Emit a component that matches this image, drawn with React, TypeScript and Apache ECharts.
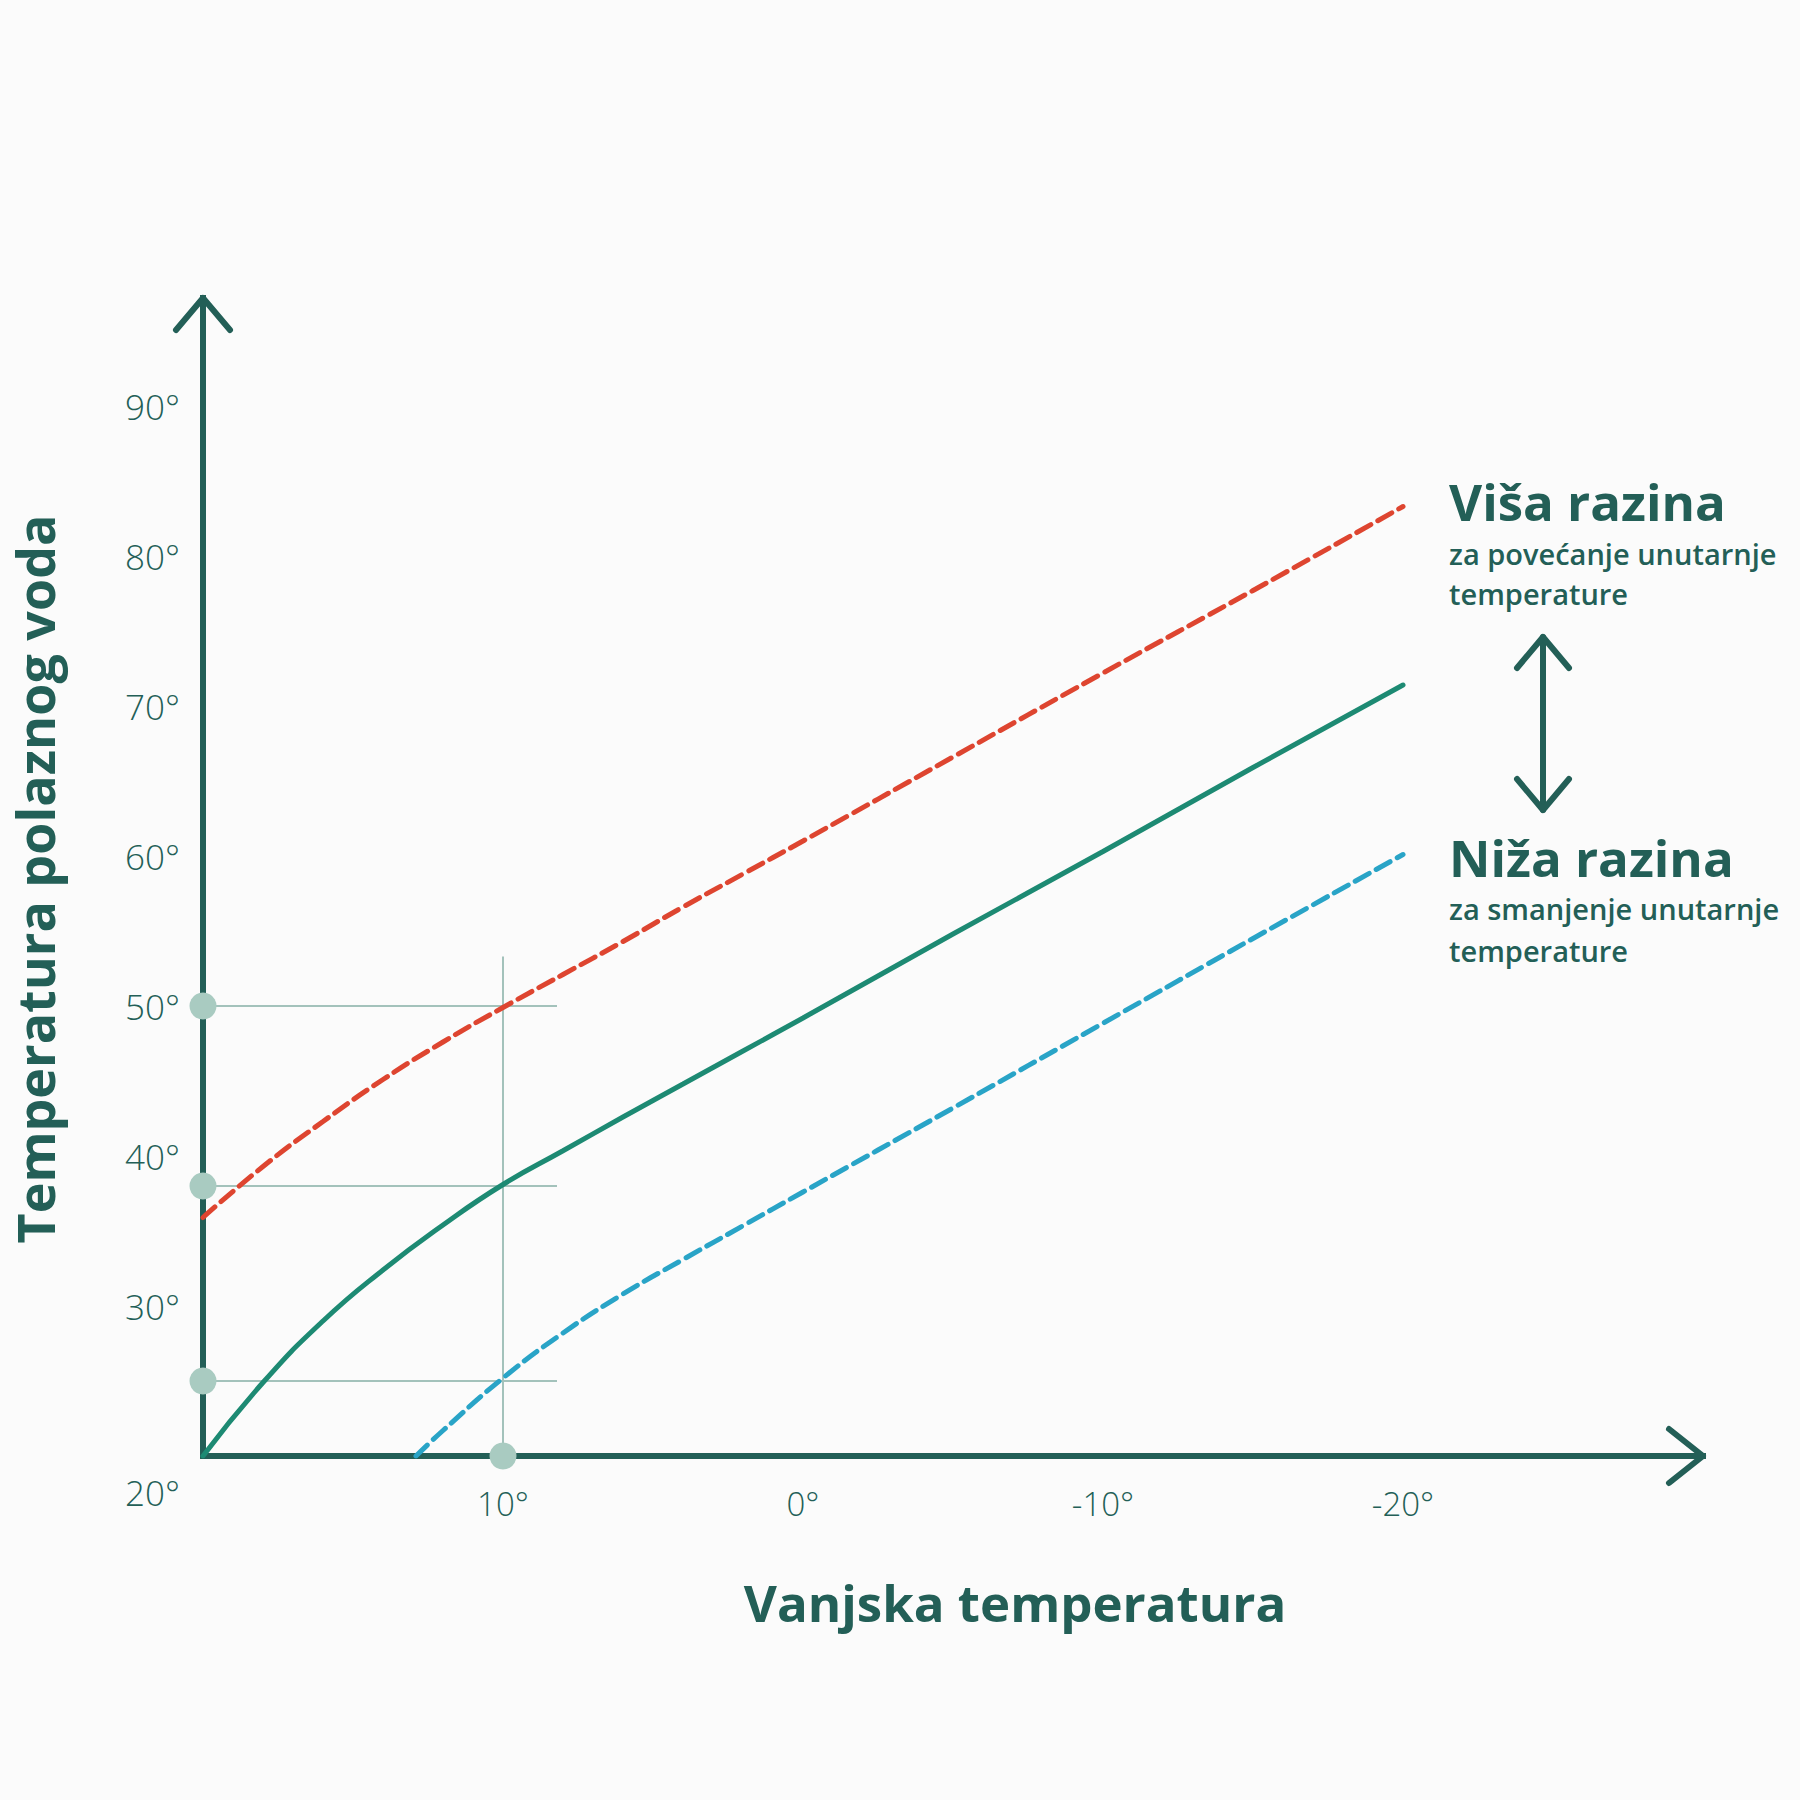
import React, { useEffect, useRef } from "react";
import * as echarts from "echarts";

// ---- Data ----
const outdoorTicks = [10, 0, -10, -20];
const flowTicks = [30, 40, 50, 60, 70, 80, 90];
const originLabel = "20°";

// Normal heating curve (solid)
const normalX = [20, 18, 16, 14, 12, 10, 8, 6, 4, 2, 0, -5, -10, -15, -20];
const normalY = [20, 24.9, 29.0, 32.4, 35.4, 38.1, 40.35, 42.6, 44.8, 47.0, 49.2, 54.8, 60.3, 65.9, 71.4];

// Higher level (red dashed)
const higherX = [20, 18, 16, 14, 12, 10, 8, 6, 4, 2, 0, -5, -10, -15, -20];
const higherY = [35.9, 39.3, 42.3, 45.1, 47.6, 49.9, 52.1, 54.3, 56.6, 58.8, 61.0, 66.6, 72.2, 77.7, 83.3];

// Lower level (blue dashed)
const lowerX = [12.9, 12, 10, 8, 6, 4, 2, 0, -5, -10, -15, -20];
const lowerY = [20, 21.7, 25.2, 28.2, 30.8, 33.1, 35.35, 37.6, 43.2, 48.85, 54.5, 60.1];

// Reading guides at outdoor 10°
const guideFlowValues = [50, 38, 25];
const guideOutdoor = 10;
const guideEndX = 8.2;
const guideTopY = 53.3;

const xMin = -30;
const xMax = 20;
const yMin = 20;
const yMax = 97.2;

const higherTitle = "Viša razina";
const higherSub = ["za povećanje unutarnje", "temperature"];
const lowerTitle = "Niža razina";
const lowerSub = ["za smanjenje unutarnje", "temperature"];
const xTitle = "Vanjska temperatura";
const yTitle = "Temperatura polaznog voda";

// ---- Styling ----
const DARK = "#235f57";
const TEAL = "#1d8a73";
const RED = "#de4530";
const BLUE = "#29a4c7";
const GUIDE = "#a3c2bb";
const DOT = "#a9cbc1";
const FONT = "'Open Sans', sans-serif";

const G = { left: 203, top: 298, width: 1500, height: 1158 };

const zip = (xs: number[], ys: number[]) => xs.map((x, i) => [x, ys[i]]);

export default function App() {
  const ref = useRef<HTMLDivElement>(null);
  useEffect(() => {
    if (!ref.current) return;
    const chart = echarts.init(ref.current, undefined, { renderer: "svg" });
    const right = G.left + G.width;
    const bottom = G.top + G.height;
    const arrowStyle = { stroke: DARK, lineWidth: 6, fill: null, lineCap: "round", lineJoin: "round" };

    const guideSeries: any[] = guideFlowValues.map((v) => ({
      type: "line",
      data: [[xMax, v], [guideEndX, v]],
      symbol: "none",
      lineStyle: { color: GUIDE, width: 2 },
      z: 1,
      silent: true,
    }));
    guideSeries.push({
      type: "line",
      data: [[guideOutdoor, yMin], [guideOutdoor, guideTopY]],
      symbol: "none",
      lineStyle: { color: GUIDE, width: 2 },
      z: 1,
      silent: true,
    });

    const dotData = [
      ...guideFlowValues.map((v) => [xMax, v]),
      [guideOutdoor, yMin],
    ];

    const tx = (t: string, x: number, y: number, font: string, extra: any = {}) => ({
      type: "text",
      x,
      y,
      ...extra,
      style: { text: t, fill: DARK, font, textVerticalAlign: "middle", ...(extra.style || {}) },
    });

    const curve = (data: number[][], color: string, dashed: boolean) => ({
      type: "line",
      data,
      symbol: "none",
      smooth: 0.5,
      lineStyle: dashed
        ? { color, width: 5, type: [16, 8], cap: "round" }
        : { color, width: 5, cap: "round" },
      z: 3,
    });

    chart.setOption({
      animation: false,
      backgroundColor: "#fbfbfb",
      grid: { left: G.left, top: G.top, width: G.width, height: G.height, containLabel: false },
      xAxis: {
        type: "value",
        inverse: true,
        min: xMin,
        max: xMax,
        interval: 10,
        axisLine: { show: true, onZero: false, lineStyle: { color: DARK, width: 6, cap: "square" } },
        axisTick: { show: false },
        splitLine: { show: false },
        axisLabel: {
          margin: 31,
          color: DARK,
          fontSize: 33,
          fontFamily: FONT,
          fontWeight: 300,
          formatter: (v: number) => (outdoorTicks.includes(v) ? `${v}°` : ""),
        },
      },
      yAxis: {
        type: "value",
        min: yMin,
        max: yMax,
        interval: 10,
        axisLine: { show: true, onZero: false, lineStyle: { color: DARK, width: 6, cap: "square" } },
        axisTick: { show: false },
        splitLine: { show: false },
        axisLabel: {
          margin: 23,
          color: DARK,
          fontSize: 35,
          fontFamily: FONT,
          fontWeight: 300,
          formatter: (v: number) => (flowTicks.includes(v) ? `${v}°` : ""),
        },
      },
      series: [
        ...guideSeries,
        curve(zip(higherX, higherY), RED, true),
        curve(zip(lowerX, lowerY), BLUE, true),
        curve(zip(normalX, normalY), TEAL, false),
        {
          type: "scatter",
          data: dotData,
          symbolSize: 27,
          itemStyle: { color: DOT, opacity: 1 },
          z: 4,
          silent: true,
        },
      ],
      graphic: [
        { type: "polyline", shape: { points: [[G.left - 27, G.top + 32], [G.left, G.top], [G.left + 27, G.top + 32]] }, style: arrowStyle },
        { type: "polyline", shape: { points: [[right - 34, bottom - 27], [right, bottom], [right - 34, bottom + 27]] }, style: arrowStyle },
        { type: "line", shape: { x1: 1543, y1: 637, x2: 1543, y2: 810 }, style: arrowStyle },
        { type: "polyline", shape: { points: [[1517, 668], [1543, 637], [1569, 668]] }, style: arrowStyle },
        { type: "polyline", shape: { points: [[1517, 779], [1543, 810], [1569, 779]] }, style: arrowStyle },
        tx(originLabel, 180, 1492, `300 35px ${FONT}`, { style: { textAlign: "right" } }),
        tx(xTitle, 1015, 1602, `700 51px ${FONT}`, { style: { textAlign: "center" } }),
        tx(yTitle, 34, 879, `700 52px ${FONT}`, { rotation: Math.PI / 2, style: { textAlign: "center" } }),
        tx(higherTitle, 1449, 501, `700 51px ${FONT}`),
        tx(higherSub[0], 1449, 553, `600 29px ${FONT}`),
        tx(higherSub[1], 1449, 593, `600 29px ${FONT}`),
        tx(lowerTitle, 1449, 857, `700 51px ${FONT}`),
        tx(lowerSub[0], 1449, 908, `600 29px ${FONT}`),
        tx(lowerSub[1], 1449, 950, `600 29px ${FONT}`),
      ],
    });
    return () => chart.dispose();
  }, []);
  return <div ref={ref} style={{ position: "absolute", left: 0, top: 0, width: 1800, height: 1800 }} />;
}
